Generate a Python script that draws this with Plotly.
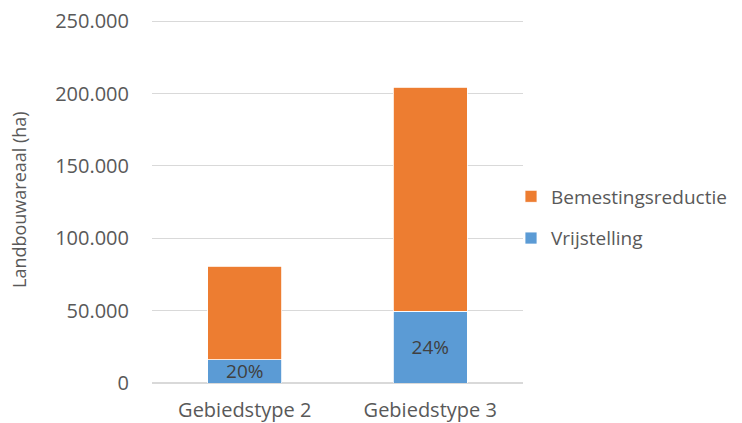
import plotly.graph_objects as go

categories = ["Gebiedstype 2", "Gebiedstype 3"]
vrijstelling = [16100, 49500]
bemestingsreductie = [64400, 154800]
pct_labels = ["20%", "24%"]
y_ticks = [0, 50000, 100000, 150000, 200000, 250000]

FONT = "Open Sans"
GREY = "#595959"

# page body has an 8px margin; figure is sized to compensate
W, H = 734, 415
L, T, B = 144, 11, 40
PW = 371
R = W - L - PW
PH = H - T - B

fig = go.Figure()
fig.add_trace(go.Bar(
    x=categories, y=vrijstelling, name="Vrijstelling",
    marker=dict(color="#5B9BD5", line=dict(color="#ffffff", width=0.8)),
    text=pct_labels, textposition="inside", insidetextanchor="middle",
    constraintext="none", cliponaxis=False,
    textfont=dict(family=FONT, size=19, color="#404040"),
    legendgroup="b", legendrank=2, width=0.4,
))
fig.add_trace(go.Bar(
    x=categories, y=bemestingsreductie, name="Bemestingsreductie",
    marker=dict(color="#ED7D31", line=dict(color="#ffffff", width=0.8)),
    legendgroup="a", legendrank=1, width=0.4,
))

fig.update_layout(
    width=W, height=H,
    margin=dict(l=L, r=R, t=T, b=B, autoexpand=False),
    barmode="stack",
    separators=",.",
    plot_bgcolor="white", paper_bgcolor="white",
    font=dict(family=FONT, size=19, color=GREY),
    legend=dict(
        x=(503 - L) / PW, y=(T + PH - 209.5) / PH, xanchor="left", yanchor="middle",
        traceorder="grouped", tracegroupgap=14,
        font=dict(family=FONT, size=19, color=GREY),
        itemwidth=30, bgcolor="rgba(0,0,0,0)",
    ),
    showlegend=True,
)
fig.update_yaxes(
    range=[0, 251500], tickvals=y_ticks, tickformat=",d",
    showgrid=True, gridcolor="#d9d9d9", gridwidth=1,
    zeroline=True, zerolinecolor="#d9d9d9",
    tickfont=dict(family=FONT, size=20, color=GREY),
    ticklabelstandoff=22, ticklabeloverflow="allow",
)
fig.update_xaxes(
    showline=True, linecolor="#d9d9d9",
    tickfont=dict(family=FONT, size=20, color=GREY),
    ticklabelstandoff=9, ticklabeloverflow="allow",
)
fig.add_annotation(
    text="Landbouwareaal (ha)", textangle=-90,
    xref="paper", yref="paper", x=(11 - L) / PW, y=(T + PH - 192) / PH,
    xanchor="center", yanchor="middle", showarrow=False,
    font=dict(family=FONT, size=18, color=GREY),
)

fig.write_html("out.html")
